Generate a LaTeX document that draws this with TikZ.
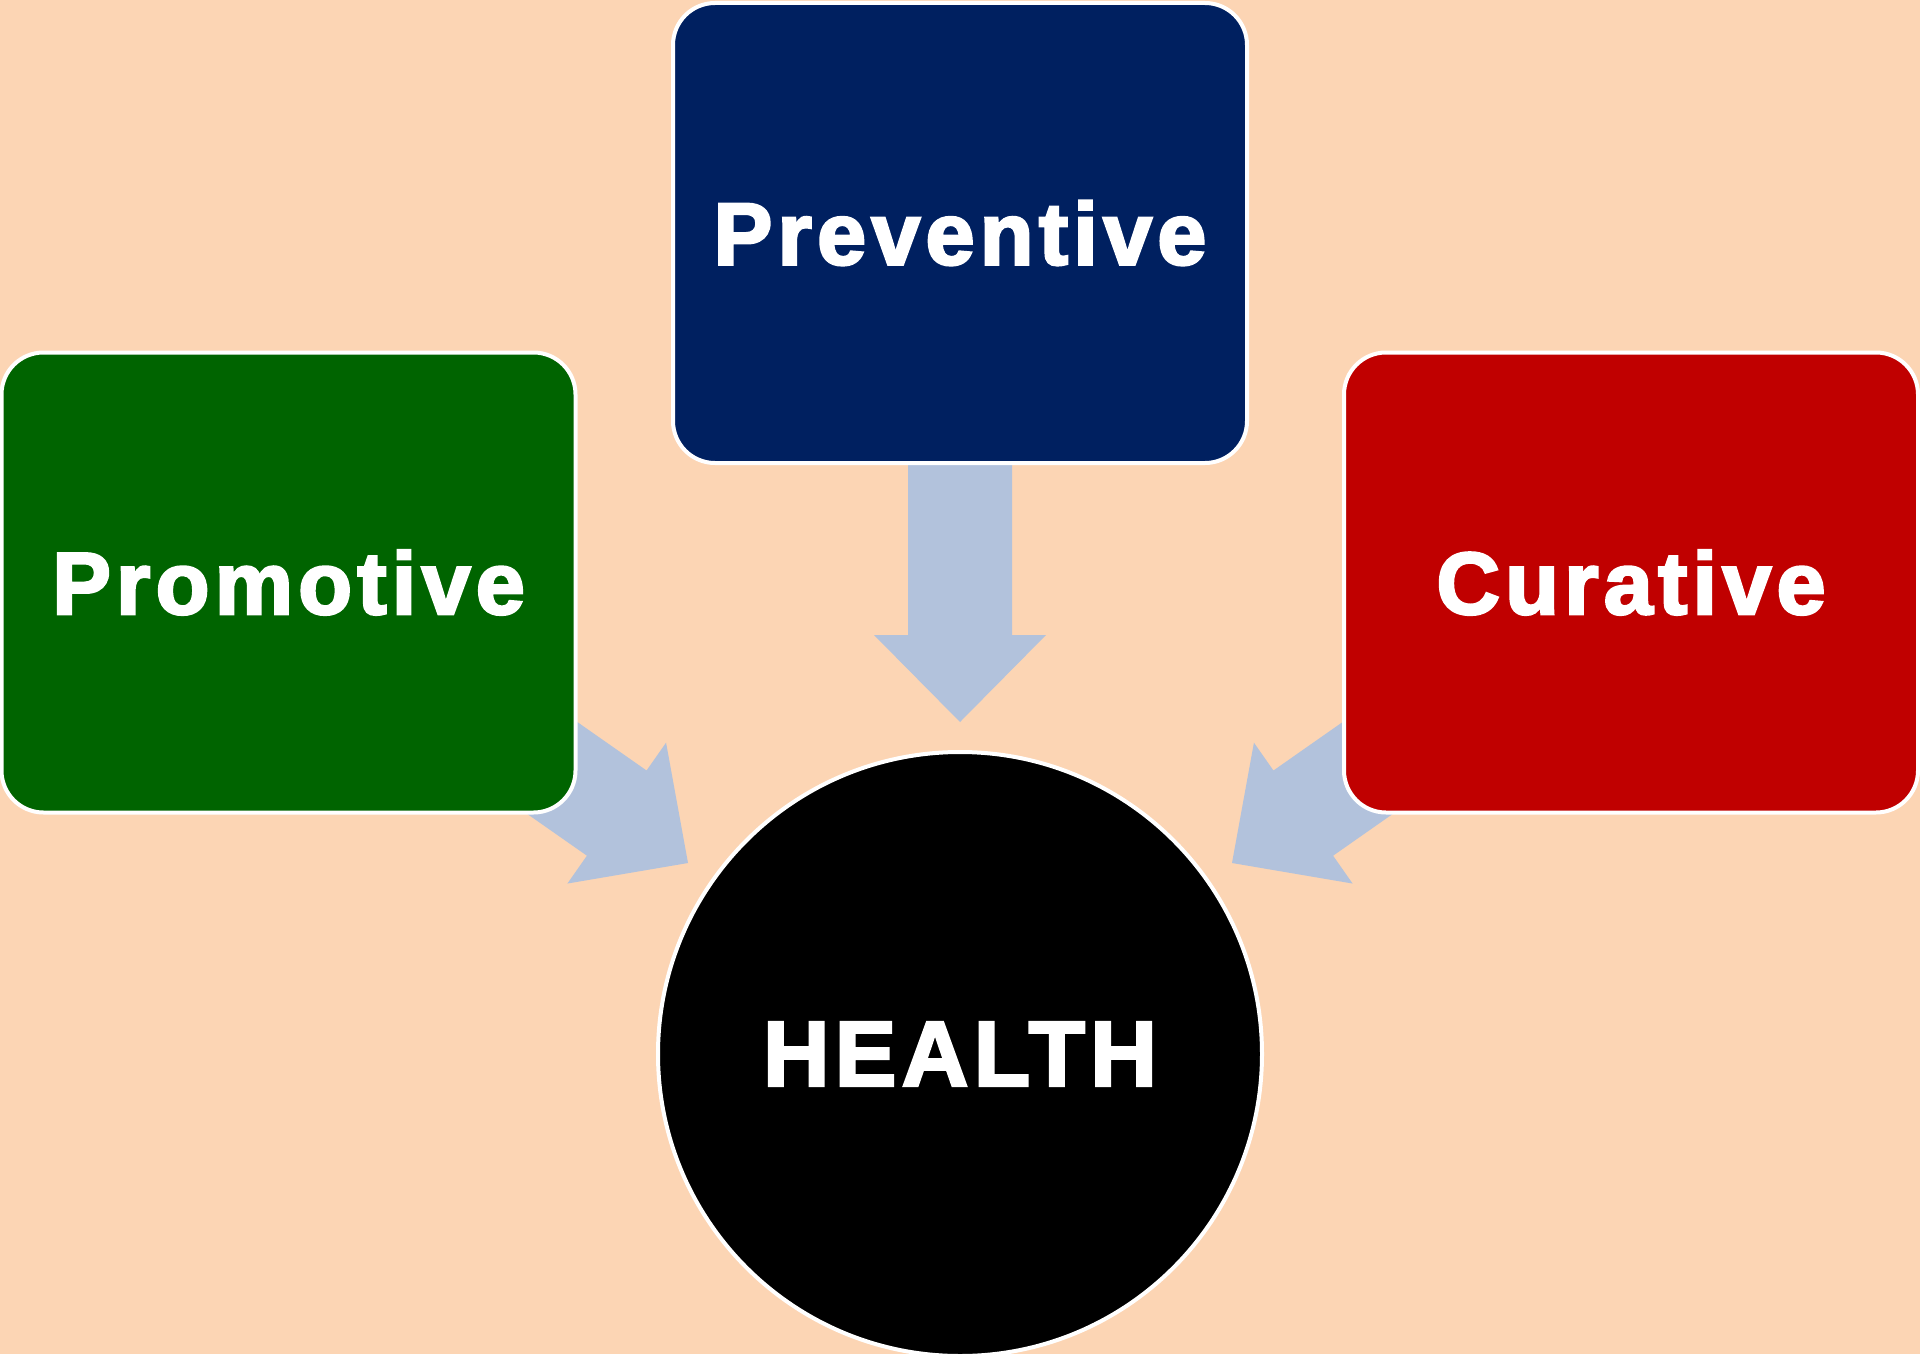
\documentclass[tikz,border=0pt]{standalone}
\usepackage{fontspec}
\newfontfamily\lblfont[LetterSpace=6.0,FakeBold=3]{Liberation Sans}
\definecolor{bgpeach}{HTML}{FCD5B4}
\definecolor{arrowblue}{HTML}{B2C2DC}
\definecolor{navyfill}{HTML}{002060}
\definecolor{greenfill}{HTML}{006400}
\definecolor{redfill}{HTML}{C00000}
\tikzset{
  blockarrow/.pic={
    \fill[arrowblue] (0,0) -- (-87,86) -- (-87,52) -- (-337,52) -- (-337,-52) -- (-87,-52) -- (-87,-86) -- cycle;
  },
  roundbox/.style={draw=white, line width=4pt, rounded corners=42pt,
    minimum width=574pt, minimum height=460pt, inner sep=0pt,
    text=white, font=\lblfont\bfseries\fontsize{88}{100}\selectfont},
  healthcircle/.style={circle, draw=white, line width=4pt, fill=black,
    minimum size=604pt, inner sep=0pt,
    text=white, font=\lblfont\bfseries\fontsize{92}{104}\selectfont}
}
\begin{document}
\begin{tikzpicture}[x=1pt,y=-1pt]
\fill[bgpeach] (0,0) rectangle (1920,1354);
\useasboundingbox (0,0) rectangle (1920,1354);
% block arrows (behind boxes)
\pic[rotate=-90] at (960,722) {blockarrow};
\pic[rotate=-35] at (688,863) {blockarrow};
\pic[rotate=-145] at (1232,863) {blockarrow};
% boxes
\node[roundbox, fill=navyfill] (prev) at (960,233) {Preventive};
\node[roundbox, fill=greenfill] (prom) at (288.5,582.5) {Promotive};
\node[roundbox, fill=redfill] (cur) at (1631,582.5) {Curative};
\node[healthcircle] (health) at (960,1054) {HEALTH};
\end{tikzpicture}
\end{document}
